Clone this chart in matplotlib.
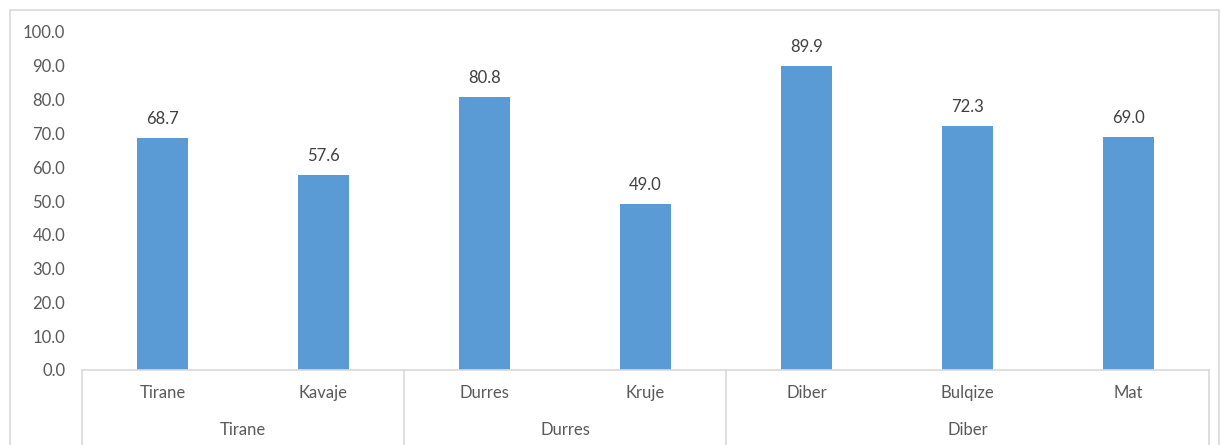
import matplotlib.pyplot as plt
from matplotlib.patches import Rectangle

districts = ["Tirane", "Kavaje", "Durres", "Kruje", "Diber", "Bulqize", "Mat"]
values = [68.7, 57.6, 80.8, 49.0, 89.9, 72.3, 69.0]
regions = ["Tirane", "Durres", "Diber"]
region_sizes = [2, 2, 3]
yticks = [0, 10, 20, 30, 40, 50, 60, 70, 80, 90, 100]

bar_color = "#5B9BD5"
text_color = "#595959"
line_color = "#D9D9D9"

plt.rcParams['font.family'] = ['Lato', 'DejaVu Sans']

fig = plt.figure(figsize=(12.21, 4.45), dpi=100)
ax = fig.add_axes([82 / 1221, 75 / 445, (1209 - 82) / 1221, 338 / 445])

x = list(range(len(districts)))
ax.bar(x, values, width=0.32, color=bar_color, zorder=2)
for xi, v in zip(x, values):
    ax.annotate(f"{v:.1f}", (xi, v), xytext=(0, 8), textcoords="offset points",
                ha="center", va="bottom", fontsize=12, color="#404040")

ax.set_xlim(-0.5, len(districts) - 0.5)
ax.set_ylim(0, 100)
ax.set_yticks(yticks)
ax.set_yticklabels([f"{t:.1f}" for t in yticks], fontsize=12, color=text_color)
ax.tick_params(axis="y", length=0, pad=12)
ax.set_xticks([])
for side in ["top", "right", "left"]:
    ax.spines[side].set_visible(False)
ax.spines["bottom"].set_color(line_color)
ax.spines["bottom"].set_linewidth(1.2)

tr = ax.get_xaxis_transform()
bottom = -75 / 338
for xi, name in zip(x, districts):
    ax.text(xi, -23 / 338, name, transform=tr, ha="center", va="center",
            fontsize=12, color=text_color)

start = -0.5
ax.plot([start, start], [0, bottom], transform=tr, color=line_color, lw=1.2, clip_on=False)
for name, n in zip(regions, region_sizes):
    end = start + n
    ax.plot([end, end], [0, bottom], transform=tr, color=line_color, lw=1.2, clip_on=False)
    ax.text((start + end) / 2, -60 / 338, name, transform=tr, ha="center", va="center",
            fontsize=12, color=text_color)
    start = end

fig.patches.append(Rectangle((10 / 1221, -0.1), 1209 / 1221, 1 - 10 / 445 + 0.1,
                             transform=fig.transFigure, fill=False,
                             edgecolor=line_color, lw=1.2))

fig.savefig("out.png", dpi=100)
